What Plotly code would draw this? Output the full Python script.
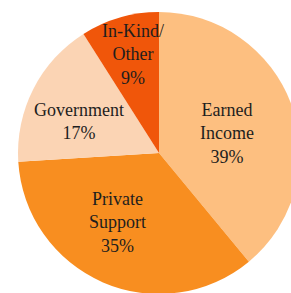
import math
import plotly.graph_objects as go

categories = ["Earned<br>Income", "Private<br>Support", "Government", "In-Kind/<br>Other"]
values = [39, 35, 17, 9]
colors = ["#FDBF80", "#F88E20", "#FBD4B4", "#F0560A"]

# label placement styling (radial fraction and angular nudge, degrees)
label_rfrac = [0.50, 0.575, 0.61, 0.72]
label_nudge = [3.4, 7.0, -5.4, 1.3]

fig = go.Figure(go.Pie(
    labels=categories,
    values=values,
    sort=False,
    direction="clockwise",
    rotation=0,
    marker=dict(colors=colors, line=dict(width=0)),
    textinfo="none",
    hoverinfo="label+percent",
    showlegend=False,
    domain=dict(x=[0, 1], y=[0, 1]),
))

total = sum(values)
start = 0.0
for cat, v, rf, nd in zip(categories, values, label_rfrac, label_nudge):
    sweep = 360.0 * v / total
    a = math.radians(start + sweep / 2 + nd)
    start += sweep
    fig.add_annotation(
        x=0.5 + 0.5 * rf * math.sin(a),
        y=0.5 + 0.5 * rf * math.cos(a),
        xref="paper", yref="paper",
        text=f"{cat}<br>{round(100 * v / total)}%",
        showarrow=False,
        xanchor="center", yanchor="middle",
        font=dict(family="Liberation Serif", size=18, color="#1e1e1e"),
    )

fig.update_layout(
    width=300,
    height=294,
    margin=dict(l=18, r=0, t=12, b=0),
    paper_bgcolor="white",
    plot_bgcolor="white",
)

fig.write_html(
    "out.html",
    config={"displayModeBar": False},
    post_script="document.body.style.margin='0';document.body.style.overflow='hidden';document.documentElement.style.overflow='hidden';",
)
